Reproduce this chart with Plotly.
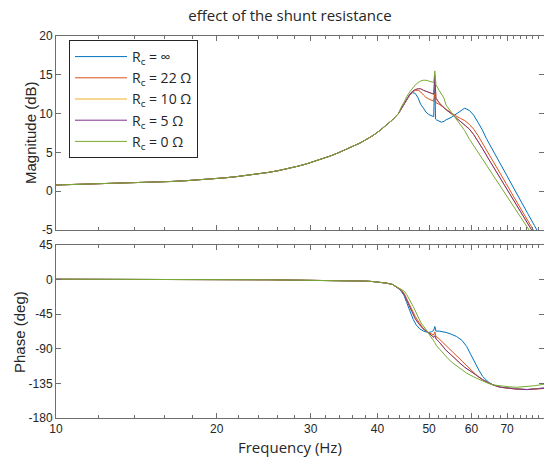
import plotly.graph_objects as go
import numpy as np

# ---------------- data ----------------
series_names = ["R<sub>c</sub> = ∞", "R<sub>c</sub> = 22 Ω", "R<sub>c</sub> = 10 Ω",
                "R<sub>c</sub> = 5 Ω", "R<sub>c</sub> = 0 Ω"]
series_colors = ["#0072BD", "#D95319", "#EDB120", "#7E2F8E", "#77AC30"]

x_tick_vals = [10, 20, 30, 40, 50, 60, 70]
x_minor_vals = [12, 14, 16, 18, 22, 24, 26, 28, 32, 34, 36, 38, 42, 44, 46, 48,
                52, 54, 56, 58, 62, 64, 66, 68, 72, 74, 76, 78, 80]
mag_ticks = [-5, 0, 5, 10, 15, 20]
mag_labels = ["-5", "0", "5", "10", "15", "20"]
phase_ticks = [-180, -135, -90, -45, 0, 45]
phase_labels = ["-180", "-135", "-90", "-45", "0", "45"]

# shared low-frequency part (all curves coincide)
common_freq = [10, 11.1, 12.2, 13.2, 14.3, 15.3, 16.4, 17.5, 18.6, 19.6, 20.7, 21.8, 22.9,
               24.0, 25.0, 26.1, 27.2, 28.3, 29.4, 30.5, 31.6, 32.7, 33.8, 34.9, 36.0,
               37.1, 38.2, 39.3, 40.4, 41.6, 42.7, 43.8]
common_mag = [0.80, 0.88, 0.95, 1.02, 1.08, 1.15, 1.25, 1.35, 1.45, 1.58, 1.72, 1.88,
              2.05, 2.22, 2.42, 2.65, 2.90, 3.20, 3.50, 3.85, 4.20, 4.55, 4.95, 5.35,
              5.75, 6.20, 6.70, 7.20, 7.80, 8.50, 9.20, 10.0]
common_phase = [0.5, 0.3, 0.4, 0.2, 0.3, 0.1, 0.2, 0.0, 0.1, 0.0, 0.0, -0.1, -0.1, -0.2,
                -0.2, -0.3, -0.3, -0.4, -0.4, -0.5, -0.6, -0.7, -0.9, -1.0, -1.3, -1.6,
                -2.0, -2.6, -3.4, -4.6, -6.3, -11.0]

# magnitude, above 44 Hz
inf_mag_f = [44.3, 44.9, 45.4, 46.0, 46.6, 47.1, 47.7, 48.2, 48.8, 49.3, 49.9, 50.5, 51.0,
             51.25, 51.4, 51.6, 52.2, 52.7, 53.3, 53.8, 55.0, 56.1, 57.2, 58.3, 59.5, 60.6,
             61.7, 62.9, 64.0, 65.1, 67.4, 69.7, 71.9, 74.2, 76.5, 78.8, 81.1, 82.2]
inf_mag = [10.6, 11.3, 11.9, 12.4, 12.7, 12.6, 12.0, 11.2, 10.7, 10.2, 9.9, 9.7, 9.6, 14.6,
           9.3, 9.2, 9.0, 8.9, 9.0, 9.2, 9.5, 9.9, 10.4, 10.7, 10.4, 9.8, 8.9, 7.9, 6.8,
           5.86, 3.96, 2.18, 0.45, -1.24, -2.87, -4.46, -6.03, -6.78]

r22_mag_f = [44.3, 44.9, 45.4, 46.0, 46.6, 47.1, 47.7, 48.2, 48.8, 49.3, 49.9, 50.5, 51.0,
             51.25, 51.5, 52.2, 52.7, 53.8, 55.0, 56.1, 57.2, 58.3, 59.5, 60.6, 61.7, 62.9,
             65.1, 67.4, 69.7, 71.9, 74.2, 76.5, 78.8, 81.1, 82.2]
r22_mag = [10.6, 11.2, 11.8, 12.4, 12.8, 13.0, 13.0, 12.8, 12.4, 12.1, 11.9, 11.7, 11.6,
           12.6, 11.4, 11.2, 11.0, 10.5, 10.0, 9.7, 9.4, 9.1, 8.6, 8.0, 7.2, 6.24, 4.44,
           2.66, 0.99, -0.63, -2.21, -3.75, -5.24, -6.71, -7.4]

r10_mag_f = [44.3, 44.9, 45.4, 46.0, 46.6, 47.1, 47.7, 48.2, 48.8, 49.3, 49.9, 50.5, 51.0,
             51.25, 51.5, 52.2, 52.7, 53.8, 55.0, 56.1, 57.2, 58.3, 59.5, 60.6, 61.7, 62.9,
             65.1, 67.4, 69.7, 71.9, 74.2, 76.5, 78.8, 81.1, 82.2]
r10_mag = [10.6, 11.3, 11.9, 12.5, 12.9, 13.1, 13.2, 13.2, 13.0, 12.9, 12.7, 12.6, 12.5,
           14.9, 12.0, 11.4, 11.1, 10.5, 10.0, 9.5, 9.1, 8.5, 8.0, 7.3, 6.5, 5.53, 3.79,
           2.07, 0.46, -1.11, -2.64, -4.13, -5.57, -7.0, -7.7]

r5_mag_f = [44.3, 44.9, 45.4, 46.0, 46.6, 47.1, 47.7, 48.2, 48.8, 49.3, 49.9, 50.5, 51.0,
            51.25, 51.5, 52.2, 52.7, 53.8, 55.0, 56.1, 57.2, 58.3, 59.5, 60.6, 61.7, 62.9,
            65.1, 67.4, 69.7, 71.9, 74.2, 76.5, 78.8, 81.1, 82.2]
r5_mag = [10.6, 11.3, 11.9, 12.5, 12.9, 13.1, 13.2, 13.2, 13.0, 12.9, 12.7, 12.6, 12.5,
          14.9, 12.0, 11.4, 11.1, 10.5, 10.0, 9.5, 9.1, 8.5, 8.0, 7.3, 6.5, 5.53, 3.79,
          2.07, 0.46, -1.11, -2.64, -4.13, -5.57, -7.0, -7.7]

r0_mag_f = [44.3, 44.9, 45.4, 46.0, 46.6, 47.1, 47.7, 48.2, 48.8, 49.3, 49.9, 50.5, 51.0,
            51.25, 51.5, 52.2, 52.7, 53.3, 53.8, 55.0, 56.1, 57.2, 58.3, 59.5, 60.6, 62.9,
            65.1, 67.4, 69.7, 71.9, 74.2, 76.5, 78.8, 81.1, 82.2]
r0_mag = [10.8, 11.5, 12.2, 12.8, 13.3, 13.7, 14.0, 14.2, 14.3, 14.3, 14.2, 14.1, 14.0,
          15.5, 13.7, 13.0, 12.5, 12.0, 11.1, 10.2, 9.4, 8.7, 7.8, 6.7, 5.86, 4.2, 2.6,
          1.03, -0.45, -1.9, -3.3, -4.67, -6.0, -7.3, -8.0]

# phase, above 44 Hz
inf_ph_f = [44.3, 44.9, 45.4, 46.0, 46.7, 47.3, 48.0, 48.8, 49.8, 50.5, 51.0, 51.25, 51.5,
            52.2, 52.9, 53.8, 55.0, 56.3, 57.6, 58.8, 59.8, 60.9, 62.0, 63.0, 64.5, 65.9,
            68.0, 70.8, 73.1, 76.1, 78.8, 82.2]
inf_ph = [-15, -21, -30, -41, -52, -59, -64, -67, -68.7, -68, -66, -61, -67, -67, -67.5,
          -68.7, -71, -74, -79, -87, -97, -108.6, -118, -126, -133, -137, -140, -141,
          -142, -143, -142, -141]

r22_ph_f = [44.3, 44.9, 45.4, 46.0, 46.6, 47.1, 47.9, 48.7, 49.8, 50.5, 51.0, 51.25, 51.5,
            52.2, 52.9, 53.8, 55.0, 56.1, 57.1, 58.3, 59.5, 60.5, 61.7, 63.0, 64.5, 65.9,
            68.0, 70.8, 73.1, 76.5, 78.8, 82.2]
r22_ph = [-13, -18, -25, -33, -41, -48, -56, -63, -68.7, -71, -72, -68, -74, -77, -81, -86,
          -92, -98, -103, -110, -116, -120, -126, -130.4, -134, -137, -140, -141.5, -142.5,
          -143, -142, -141]

r10_ph_f = [44.3, 44.9, 45.4, 46.0, 46.6, 47.1, 47.9, 48.7, 49.8, 50.5, 51.0, 51.25, 51.5,
            52.2, 52.9, 53.8, 55.0, 56.1, 57.1, 58.3, 59.5, 60.5, 61.7, 63.0, 64.5, 65.9,
            68.0, 70.8, 73.1, 76.5, 78.8, 82.2]
r10_ph = [-14, -19.5, -27, -36, -44, -51, -58, -64, -68.7, -72, -75, -73, -77, -81, -86,
          -92, -98, -104, -108.6, -114, -118.5, -122, -126.5, -130, -134, -137, -140,
          -141.5, -142.5, -143, -142.5, -141.5]

r5_ph_f = [44.3, 44.9, 45.4, 46.0, 46.6, 47.1, 47.9, 48.7, 49.8, 50.5, 51.0, 51.25, 51.5,
           52.2, 52.9, 53.8, 55.0, 56.1, 57.1, 58.3, 59.5, 60.5, 61.7, 63.0, 64.5, 65.9,
           68.0, 70.8, 73.1, 76.5, 78.8, 82.2]
r5_ph = [-14, -19.5, -27, -36, -44, -51, -58, -64, -68.7, -72, -75, -73, -77, -81, -86,
         -92, -98, -104, -108.6, -114, -118.5, -122, -126.5, -130, -134, -137, -140,
         -141.5, -142.5, -143, -142.5, -141.5]

r0_ph_f = [44.3, 44.9, 45.4, 46.0, 46.7, 47.5, 48.3, 49.1, 49.8, 50.4, 50.8, 51.25, 51.6,
           52.4, 53.3, 54.3, 55.4, 57.0, 58.8, 60.6, 62.3, 64.0, 65.9, 68.0, 70.8, 73.1,
           76.5, 78.8, 82.2]
r0_ph = [-12, -15, -19.6, -26, -35, -46, -56.5, -63, -68.7, -74, -78, -82, -86, -91, -97,
         -103, -108.6, -115, -121.7, -126.5, -130.4, -134, -137, -138.5, -139.5, -140,
         -139, -138, -136]

mag_tails = [(inf_mag_f, inf_mag), (r22_mag_f, r22_mag), (r10_mag_f, r10_mag),
             (r5_mag_f, r5_mag), (r0_mag_f, r0_mag)]
ph_tails = [(inf_ph_f, inf_ph), (r22_ph_f, r22_ph), (r10_ph_f, r10_ph),
            (r5_ph_f, r5_ph), (r0_ph_f, r0_ph)]

# ---------------- figure ----------------
W, H = 544, 459
ML, MR, MT, MB = 56, 0, 36, 41
plot_w = W - ML - MR
plot_h = H - MT - MB
top_dom = [(H - MB - 230) / plot_h, 1.0]
bot_dom = [0.0, (H - MB - 245) / plot_h]
x_right = 10 ** (1 + plot_w / 533.8)

fig = go.Figure()
for name, col, (mf, mv) in zip(series_names, series_colors, mag_tails):
    fig.add_trace(go.Scatter(x=common_freq + mf, y=common_mag + mv, mode="lines",
                             name=name, line=dict(color=col, width=1),
                             xaxis="x", yaxis="y", showlegend=True))
for name, col, (pf, pv) in zip(series_names, series_colors, ph_tails):
    fig.add_trace(go.Scatter(x=common_freq + pf, y=common_phase + pv, mode="lines",
                             name=name, line=dict(color=col, width=1),
                             xaxis="x2", yaxis="y2", showlegend=False))

axis_col = "#6e6e6e"
txt_col = "#262626"
tick_font = dict(family="Liberation Sans", size=12, color=txt_col)
xcommon = dict(type="log", range=[1, np.log10(x_right)], tickmode="array",
               tickvals=x_tick_vals, ticktext=[str(v) for v in x_tick_vals],
               ticks="inside", ticklen=5, tickcolor=axis_col,
               showline=True, linecolor=axis_col, linewidth=1, mirror="allticks",
               showgrid=False, zeroline=False, tickfont=tick_font,
               minor=dict(tickvals=x_minor_vals, ticks="inside", ticklen=3,
                          tickcolor=axis_col, showgrid=False))
ycommon = dict(ticks="inside", ticklen=5, tickcolor=axis_col, showline=True,
               linecolor=axis_col, linewidth=1, mirror="allticks", showgrid=False,
               zeroline=False, tickfont=tick_font, tickmode="array",
               ticklabelstandoff=0)

fig.update_layout(
    width=W, height=H,
    margin=dict(l=ML, r=MR, t=MT, b=MB, pad=0),
    paper_bgcolor="white", plot_bgcolor="white",
    xaxis=dict(anchor="y", domain=[0, 1], showticklabels=False, **xcommon),
    xaxis2=dict(anchor="y2", domain=[0, 1], showticklabels=True, matches="x", **xcommon),
    yaxis=dict(anchor="x", domain=top_dom, range=[-5, 20], tickvals=mag_ticks,
               ticktext=mag_labels, **ycommon),
    yaxis2=dict(anchor="x2", domain=bot_dom, range=[-180, 45], tickvals=phase_ticks,
                ticktext=phase_labels, **ycommon),
    legend=dict(x=(69 - ML) / plot_w, y=(H - MB - 40) / plot_h,
                xanchor="left", yanchor="top", bgcolor="white",
                bordercolor=txt_col, borderwidth=1, itemwidth=52,
                font=dict(family="Open Sans", size=14, color=txt_col),
                tracegroupgap=0),
    showlegend=True,
    title=dict(text="effect of the shunt resistance", x=290 / W, xanchor="center",
               y=1 - 16 / H, yanchor="middle",
               font=dict(family="Open Sans", size=15, color=txt_col)),
    annotations=[
        dict(text="Frequency (Hz)", xref="paper", yref="paper",
             x=(290 - ML) / plot_w, y=(H - MB - 447) / plot_h,
             xanchor="center", yanchor="middle", showarrow=False,
             font=dict(family="Open Sans", size=15, color=txt_col)),
        dict(text="Magnitude (dB)", xref="paper", yref="paper",
             x=(30 - ML) / plot_w, y=(H - MB - 133) / plot_h, textangle=-90,
             xanchor="center", yanchor="middle", showarrow=False,
             font=dict(family="Liberation Sans", size=15, color=txt_col)),
        dict(text="Phase (deg)", xref="paper", yref="paper",
             x=(19 - ML) / plot_w, y=(H - MB - 332) / plot_h, textangle=-90,
             xanchor="center", yanchor="middle", showarrow=False,
             font=dict(family="Liberation Sans", size=15, color=txt_col)),
    ],
)

fig.write_html("out.html", config={"displayModeBar": False},
               post_script="document.body.style.margin='0px';"
                           "document.body.style.overflow='hidden';")
